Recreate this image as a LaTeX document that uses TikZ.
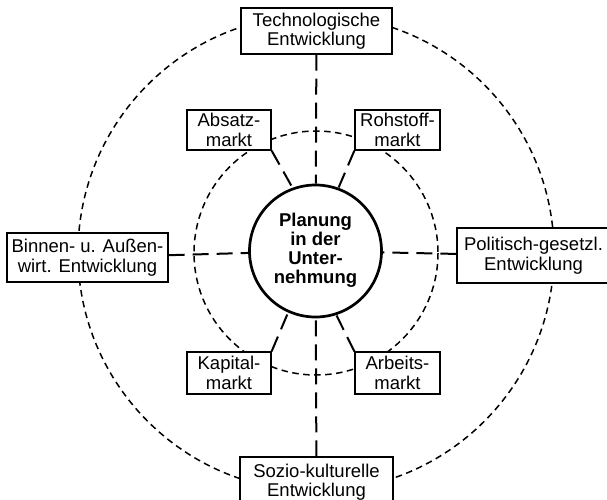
\documentclass[tikz,border=0pt]{standalone}
\usepackage{fontspec}
\setmainfont{Liberation Sans}
\begin{document}
\begin{tikzpicture}[x=1pt,y=-1pt,
  every node/.style={font=\fontsize{18.5}{19.5}\selectfont, align=center},
  box/.style={draw, line width=1.3pt, fill=white, inner sep=0pt},
  link/.style={line width=2pt, dash pattern=on 16pt off 8pt},
  ring/.style={line width=1.5pt, dash pattern=on 6.5pt off 4.5pt}]
\useasboundingbox (0,0) rectangle (607,499);
\clip (0,0) rectangle (607,499);

% environment rings
\draw[ring] (316,253) circle[radius=238];
\draw[ring] (316,253) circle[radius=122];

% outer influences
\node[box, minimum width=151pt, minimum height=46pt] (tech) at (316.5,31) {Technologische\\Entwicklung};
\node[box, minimum width=161pt, minimum height=49pt] (binnen) at (87.5,257.5) {Binnen- u. Außen-\\wirt. Entwicklung};
\node[box, minimum width=153pt, minimum height=55pt] (polit) at (533.5,255.5) {Politisch-gesetzl.\\Entwicklung};
\node[box, minimum width=153pt, minimum height=50pt] (sozio) at (316.5,482) {Sozio-kulturelle\\Entwicklung};

% markets
\node[box, minimum width=84pt, minimum height=40pt] (absatz) at (229,130) {Absatz-\\markt};
\node[box, minimum width=85pt, minimum height=40pt] (rohstoff) at (397.5,130) {Rohstoff-\\markt};
\node[box, minimum width=84pt, minimum height=42pt] (kapital) at (229,373) {Kapital-\\markt};
\node[box, minimum width=85pt, minimum height=42pt] (arbeit) at (397.5,373) {Arbeits-\\markt};

% planning core
\node[circle, draw, line width=2.7pt, fill=white, minimum size=132pt, inner sep=0pt, align=none,
      font=\bfseries\fontsize{18.5}{19}\selectfont] (plan) at (315.5,251)
      {\raisebox{-5pt}{\begin{tabular}{@{}c@{}}Planung\\in der\\Unter-\\nehmung\end{tabular}}};

% links
\draw[link] (tech) -- (plan);
\draw[link] (sozio) -- (plan);
\draw[link] (binnen) -- (plan);
\draw[link] (polit) -- (plan);
\draw[link] (absatz.south east) -- (plan.110);
\draw[link] (rohstoff.south west) -- (plan.70);
\draw[link] (kapital.north east) -- (plan.-114);
\draw[link] (arbeit.north west) -- (plan.-72);
\end{tikzpicture}
\end{document}
